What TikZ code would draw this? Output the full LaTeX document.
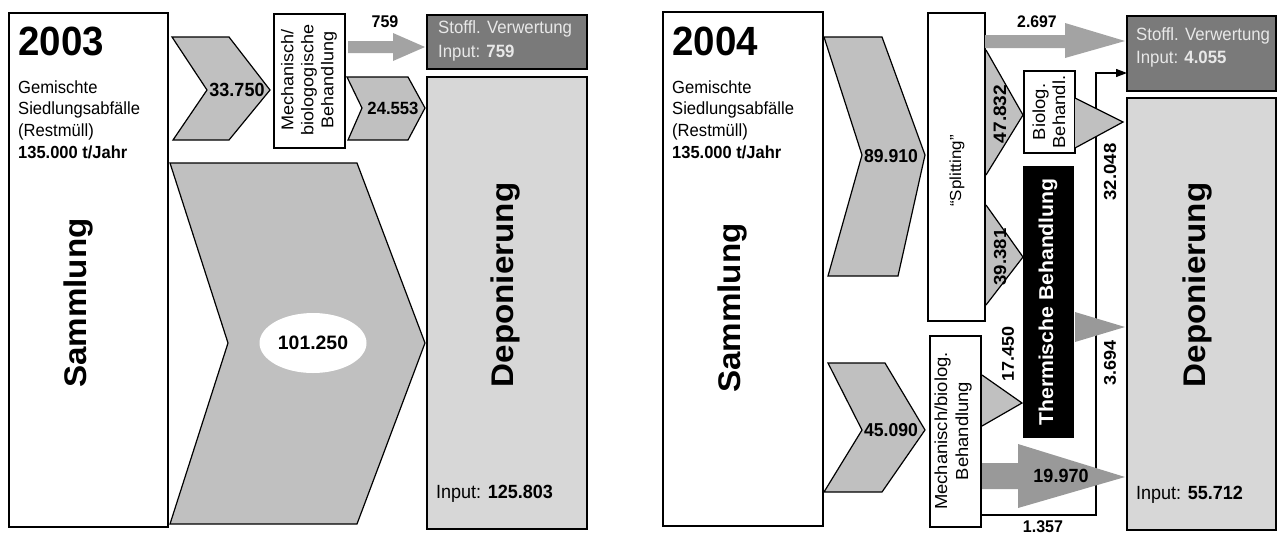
\documentclass[tikz,border=0pt]{standalone}
\usepackage{fontspec}
\setmainfont{Liberation Sans}
\usetikzlibrary{arrows.meta,shapes.geometric}
\definecolor{chev}{HTML}{C0C0C0}
\definecolor{arrg}{HTML}{A3A3A3}
\definecolor{arrd}{HTML}{999999}
\definecolor{stoff}{HTML}{7A7A7A}
\definecolor{stofftxt}{HTML}{E8E8E8}
\definecolor{dep}{HTML}{D7D7D7}
\newcommand\fs[1]{\fontsize{#1}{20}\selectfont}
\begin{document}
\begin{tikzpicture}[x=1pt,y=-1pt,
  box/.style={draw=black, line width=1.3pt, fill=white, inner sep=0pt, outer sep=0pt, anchor=north west},
  T/.style={inner sep=0pt, yscale=1.06},
  num/.style={T, font=\bfseries\fs{17.6}},
  rnum/.style={T, rotate=90, font=\bfseries\fs{17.5}},
  rtxt/.style={T, rotate=90, align=center, font=\fontsize{17}{20}\selectfont},
  bigtxt/.style={T, rotate=90, font=\bfseries\fontsize{31.3}{34}\selectfont},
  yeartxt/.style={T, anchor=base west, font=\bfseries\fontsize{38.5}{40}\selectfont},
  line/.style={T, anchor=base west, font=\fs{16.6}},
  inline/.style={T, anchor=base west, font=\fs{18}},
  stline/.style={T, anchor=base west, text=stofftxt, font=\fs{16.8}},
  flow/.style={fill=chev, draw=black, line width=1.2pt, line join=miter},
  garrow/.style={fill=arrg, draw=none},
  darrow/.style={fill=arrd, draw=none},
  conn/.style={draw=black, line width=1.2pt, -{Triangle[length=11pt,width=8pt]}}
]
\useasboundingbox (0,0) rectangle (1277,555);

% ---------------- 2003 ----------------
\node[box, minimum width=159pt, minimum height=514pt] (samL) at (9,13) {};
\node[yeartxt] (yL) at (18,55) {2003};
\node[line] (l1) at (18,93) {Gemischte};
\node[line] (l2) at (18,114) {Siedlungsabfälle};
\node[line] (l3) at (18,136) {(Restmüll)};
\node[line, font=\bfseries\fs{16.5}] (l4) at (18,158) {135.000 t/Jahr};
\node[bigtxt] (samLt) at (78,303) {Sammlung};

\node[box, minimum width=71pt, minimum height=134pt] (mechL) at (274,14) {};
\node[rtxt] (mechLt) at (309,80) {Mechanisch/\\biologogische\\Behandlung};

\node[box, fill=stoff, minimum width=160pt, minimum height=54pt] (stoffL) at (427,15) {};
\node[stline] (sL1) at (438,33) {Stoffl. Verwertung};
\node[stline] (sL2) at (438,57) {Input: \textbf{759}};

\node[box, fill=dep, minimum width=160pt, minimum height=452pt] (depL) at (427,77) {};
\node[bigtxt] (depLt) at (505,285) {Deponierung};
\node[inline] (inL) at (436,498) {Input: \textbf{125.803}};

% flows 2003
\draw[flow] (172,37) -- (229,37) -- (270,90) -- (229,140) -- (173,140) -- (207,90) -- cycle;
\node[num, font=\bfseries\fs{18}] (f1) at (237,90) {33.750};
\fill[garrow] (348,41) -- (393,41) -- (393,33) -- (425,47) -- (393,61) -- (393,53) -- (348,53) -- cycle;
\node[num, font=\bfseries\fs{16}] (f2) at (385,22) {759};
\draw[flow] (347,77) -- (408,77) -- (425,108) -- (408,140) -- (348,140) -- (362,108) -- cycle;
\node[num, font=\bfseries\fs{16.7}] (f3) at (393,108) {24.553};
\draw[flow] (170,163) -- (357,163) -- (425,343) -- (357,524) -- (170,524) -- (228,343) -- cycle;
\node[ellipse, fill=white, draw=none, minimum width=107pt, minimum height=60pt, inner sep=0pt,
      font=\bfseries\fs{19.4}] (f4) at (313,343) {101.250};

% ---------------- 2004 ----------------
\node[box, minimum width=160pt, minimum height=514pt] (samR) at (663,12) {};
\node[yeartxt] (yR) at (672,55) {2004};
\node[line] (r1) at (672,93) {Gemischte};
\node[line] (r2) at (672,114) {Siedlungsabfälle};
\node[line] (r3) at (672,136) {(Restmüll)};
\node[line, font=\bfseries\fs{16.5}] (r4) at (672,158) {135.000 t/Jahr};
\node[bigtxt] (samRt) at (732,308) {Sammlung};

\node[box, minimum width=57pt, minimum height=308pt] (split) at (928,13) {};
\node[rtxt, font=\fs{16}] (splitt) at (957,171) {“Splitting”};

\node[box, minimum width=51pt, minimum height=191pt] (mechR) at (930,336) {};
\node[rtxt, font=\fontsize{17.4}{21}\selectfont] (mechRt) at (953,431) {Mechanisch/biolog.\\Behandlung};

\node[box, fill=stoff, minimum width=149pt, minimum height=75pt] (stoffR) at (1127,16) {};
\node[stline] (sR1) at (1136,40) {Stoffl. Verwertung};
\node[stline] (sR2) at (1136,63) {Input: \textbf{4.055}};

\node[box, fill=dep, minimum width=149pt, minimum height=432pt] (depR) at (1127,98) {};
\node[bigtxt] (depRt) at (1197,285) {Deponierung};
\node[inline] (inR) at (1136,499) {Input: \textbf{55.712}};

\node[box, minimum width=51pt, minimum height=82pt] (biol) at (1024,71) {};
\node[rtxt, font=\fontsize{17.4}{20}\selectfont] (biolt) at (1049,112) {Biolog.\\Behandl.};

\node[box, fill=black, minimum width=49pt, minimum height=270pt] (therm) at (1024,167) {};
\node[T, rotate=90, text=white, font=\bfseries\fontsize{20}{22}\selectfont] (thermt) at (1048,302) {Thermische Behandlung};

% connector 1.357 / 32.048
\coordinate (c0) at (1096,515);
\coordinate (c1) at (1096,73);
\draw[conn] (mechR.east |- c0) -- (c0) -- (c1) -- (stoffR.west |- c1);

% flows 2004
\draw[flow] (824,37) -- (882,37) -- (925,155) -- (898,276) -- (828,276) -- (862,155) -- cycle;
\node[num] (g1) at (891,156) {89.910};
\draw[flow] (828,363) -- (885,363) -- (925,430) -- (882,492) -- (824,492) -- (862,430) -- cycle;
\node[num] (g2) at (891,430) {45.090};

\fill[garrow] (985,35) -- (1065,35) -- (1065,23) -- (1125,41) -- (1065,58) -- (1065,48) -- (985,48) -- cycle;
\node[num, font=\bfseries\fs{15.8}] (g3) at (1037,22) {2.697};

\draw[flow] (986,50) -- (1023,115) -- (986,175);
\node[rnum, font=\bfseries\fs{18}] (g4) at (1000,114) {47.832};
\draw[flow] (1075,98) -- (1123,122) -- (1075,148);
\node[rnum] (g5) at (1110,172) {32.048};

\draw[flow] (986,205) -- (1023,257) -- (986,305);
\node[rnum] (g6) at (1000,257) {39.381};

\fill[darrow] (1075,312) -- (1125,327) -- (1075,342) -- cycle;
\node[rnum, font=\bfseries\fs{17}] (g7) at (1110,363) {3.694};

\draw[flow] (982,375) -- (1022,403) -- (982,426);
\node[rnum, font=\bfseries\fs{17}] (g8) at (1008,354) {17.450};

\fill[darrow] (982,463) -- (1018,463) -- (1018,444) -- (1125,477) -- (1018,508) -- (1018,489) -- (982,489) -- cycle;
\node[num, font=\bfseries\fs{18}] (g9) at (1061,476) {19.970};
\node[num, font=\bfseries\fs{16}] (g10) at (1043,527) {1.357};
\end{tikzpicture}
\end{document}
